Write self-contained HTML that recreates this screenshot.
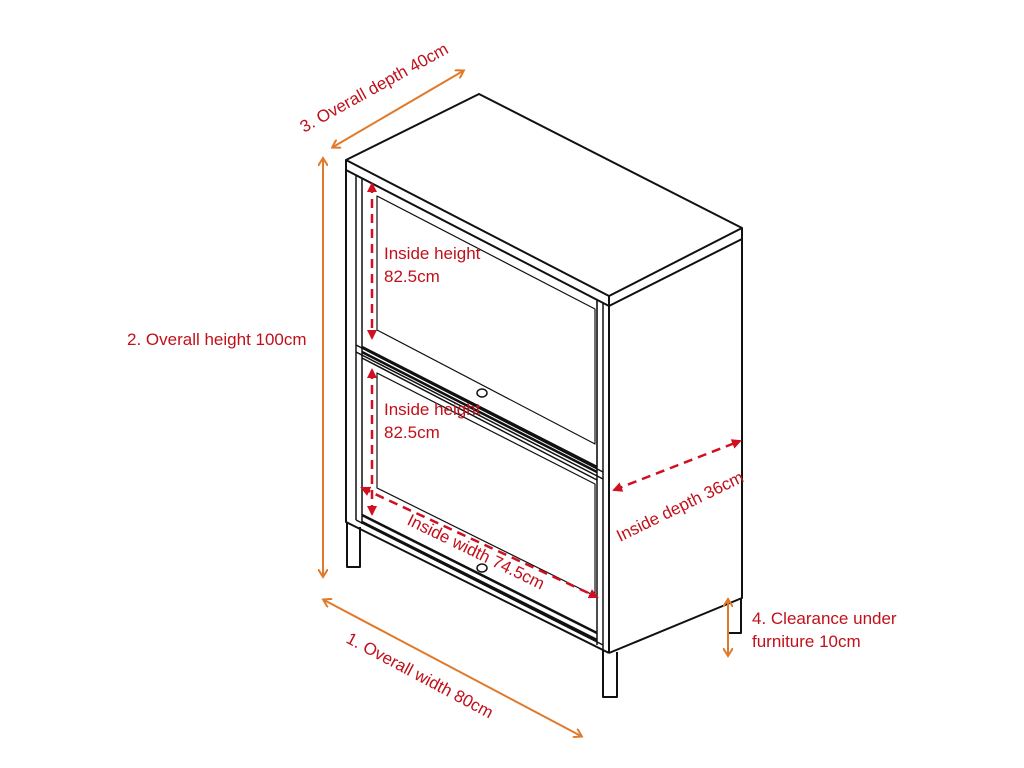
<!DOCTYPE html>
<html><head><style>
body{margin:0;background:#fff;width:1024px;height:768px;overflow:hidden}
svg{display:block}
text{font-family:"Liberation Sans",sans-serif;font-size:17px;fill:#c0101a}
</style></head><body>
<svg width="1024" height="768" viewBox="0 0 1024 768">
<defs>
<marker id="o" markerWidth="10" markerHeight="10" refX="7" refY="5" orient="auto-start-reverse" markerUnits="userSpaceOnUse"><path d="M0,0 L8,5 L0,10" fill="none" stroke="#e07a2a" stroke-width="2"/></marker>
<marker id="r" markerWidth="10" markerHeight="10" refX="8" refY="5" orient="auto-start-reverse" markerUnits="userSpaceOnUse"><path d="M0,0 L10,5 L0,10Z" fill="#d01020"/></marker>
</defs>
<g fill="none" stroke="#111" stroke-width="2" stroke-linejoin="round">
<path d="M346,160 L479,94 L742,228 L609,296 Z" fill="#fff"/>
<path d="M346,160 L346,170 L609,306 L609,296 M609,306 L742,239 L742,228"/>
<path d="M742,239 L742,598 L609,653 M609,306 L609,653"/>
<path d="M346,170 L346,522 L609,653"/>
<path d="M356,175 L356,520 M362,178 L362,524 M603,303 L603,650 M597,300 L597,645" stroke-width="1.5"/>
<path d="M356,345 L603,472 M362,358 L597,480 M356,352 L603,479" stroke-width="1.5"/>
<path d="M362,178 L597,300 L597,467 L362,347" stroke-width="1.2"/>
<path d="M377,196 L595,309 L595,444 L377,330 Z" stroke-width="1.2"/>
<path d="M362,347 L597,467 M362,352 L597,472" stroke-width="2.5"/>
<path d="M377,373 L595,484 L595,596 L377,488 Z" stroke-width="1.2"/>
<path d="M362,515 L597,633 M362,522 L597,640" stroke-width="2.5"/>
<path d="M356,520 L603,645" stroke-width="1.5"/>
<ellipse cx="482" cy="393" rx="5" ry="4" stroke-width="1.5"/>
<ellipse cx="482" cy="568" rx="5" ry="4" stroke-width="1.5"/>
<path d="M347,522 L347,567 L360,567 L360,527"/>
<path d="M603,650 L603,697 L617,697 L617,652"/>
<path d="M728,603 L728,633 L741,633 L741,598"/>
</g>
<g stroke="#e07a2a" stroke-width="2" fill="none">
<line x1="333" y1="147" x2="463" y2="71" marker-start="url(#o)" marker-end="url(#o)"/>
<line x1="323" y1="159" x2="323" y2="576" marker-start="url(#o)" marker-end="url(#o)"/>
<line x1="324" y1="600" x2="581" y2="736" marker-start="url(#o)" marker-end="url(#o)"/>
<line x1="728" y1="600" x2="728" y2="655" marker-start="url(#o)" marker-end="url(#o)"/>
</g>
<g stroke="#d01020" stroke-width="2.5" stroke-dasharray="9,6" fill="none">
<line x1="372" y1="184" x2="372" y2="338" marker-start="url(#r)" marker-end="url(#r)"/>
<line x1="372" y1="370" x2="372" y2="514" marker-start="url(#r)" marker-end="url(#r)"/>
<line x1="362" y1="488" x2="597" y2="597" marker-start="url(#r)" marker-end="url(#r)"/>
<line x1="614" y1="490" x2="740" y2="441" marker-start="url(#r)" marker-end="url(#r)"/>
</g>
<text x="384" y="259">Inside height</text>
<text x="384" y="282">82.5cm</text>
<text x="384" y="415">Inside height</text>
<text x="384" y="438">82.5cm</text>
<text x="127" y="345">2.  Overall height 100cm</text>
<text x="752" y="624">4. Clearance under</text>
<text x="752" y="647">furniture 10cm</text>
<text transform="translate(304,133) rotate(-29)">3. Overall depth 40cm</text>
<text transform="translate(345,642) rotate(28)">1.  Overall width 80cm</text>
<text transform="translate(406,524) rotate(26)">Inside width 74.5cm</text>
<text transform="translate(620,542) rotate(-26)">Inside depth 36cm</text>
</svg>
</body></html>
